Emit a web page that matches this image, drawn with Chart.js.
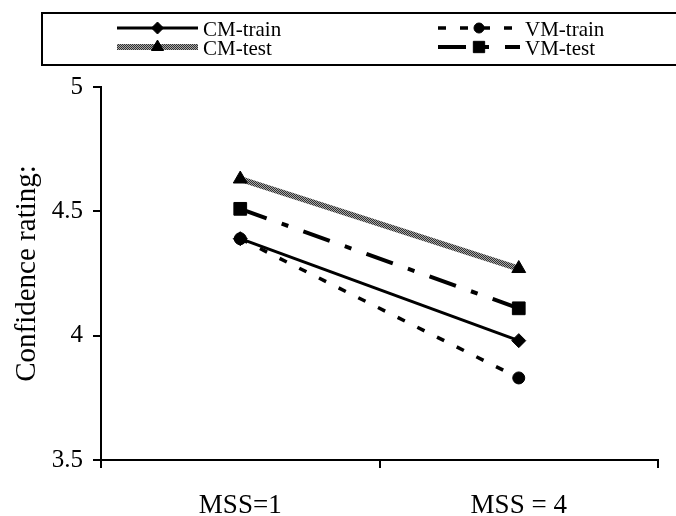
<!DOCTYPE html>
<html>
<head>
<meta charset="utf-8">
<script src="https://cdn.jsdelivr.net/npm/chart.js@4/dist/chart.umd.min.js"></script>
<style>
  html, body { margin: 0; padding: 0; background: #fff; }
  #wrap { width: 676px; height: 516px; }
</style>
</head>
<body>
<div id="wrap"><canvas id="chart"></canvas></div>
<script>
const categories = ["MSS=1", "MSS = 4"];
const yTicks     = [3.5, 4, 4.5, 5];

const cmTrain = [4.39, 3.98];
const vmTrain = [4.39, 3.83];
const cmTest  = [4.63, 4.27];
const vmTest  = [4.51, 4.11];

const SERIF = "'Liberation Serif', 'Times New Roman', serif";
Chart.defaults.font.family = SERIF;
Chart.defaults.color = "#000";

/* gray dotted texture used by CM-test */
function hatchPattern() {
  const c = document.createElement("canvas");
  c.width = 2; c.height = 2;
  const g = c.getContext("2d");
  g.fillStyle = "#a8a8a8"; g.fillRect(0, 0, 2, 2);
  g.fillStyle = "#303030"; g.fillRect(0, 0, 1, 1); g.fillRect(1, 1, 1, 1);
  return document.getElementById("chart").getContext("2d").createPattern(c, "repeat");
}

/* ── Legend box (Excel style, two columns) ─────────── */
const legendSlots = [
  { x0: 117, x1: 198, y: 28 },
  { x0: 438, x1: 520, y: 28 },
  { x0: 117, x1: 198, y: 47 },
  { x0: 438, x1: 520, y: 47 },
];

const legendBox = {
  id: "legendBox",
  afterDraw(chart) {
    const ctx = chart.ctx;
    ctx.save();
    ctx.lineWidth = 2;
    ctx.strokeStyle = "#000";
    ctx.strokeRect(42, 13, 640, 52);

    chart.data.datasets.forEach((ds, i) => {
      const s = legendSlots[i];
      ctx.beginPath();
      ctx.setLineDash(ds.borderDash || []);
      ctx.lineWidth = ds.borderWidth;
      ctx.strokeStyle = ds.borderColor;
      ctx.moveTo(s.x0, s.y);
      ctx.lineTo(s.x1, s.y);
      ctx.stroke();
      ctx.setLineDash([]);

      ctx.fillStyle = "#000";
      ctx.strokeStyle = "#000";
      ctx.lineWidth = 1;
      Chart.helpers.drawPoint(ctx, {
        pointStyle: ds.pointStyle, radius: ds.pointRadius - 1, borderWidth: 1, rotation: 0
      }, (s.x0 + s.x1) / 2, s.y);

      ctx.font = "21px " + SERIF;
      ctx.fillStyle = "#000";
      ctx.textBaseline = "middle";
      ctx.fillText(ds.label, s.x1 + 5, s.y + 2);
    });
    ctx.restore();
  }
};

const pattern = hatchPattern();

new Chart(document.getElementById("chart"), {
  type: "line",
  data: {
    labels: categories,
    datasets: [
      {
        label: "CM-train", data: cmTrain, order: 4,
        borderColor: "#000", borderWidth: 3,
        pointStyle: "rectRot", pointRadius: 7,
      },
      {
        label: "VM-train", data: vmTrain, order: 3,
        borderColor: "#000", borderWidth: 3.5, borderDash: [8, 14],
        pointStyle: "circle", pointRadius: 6,
      },
      {
        label: "CM-test", data: cmTest, order: 2,
        borderColor: pattern, borderWidth: 6,
        pointStyle: "triangle", pointRadius: 8,
      },
      {
        label: "VM-test", data: vmTest, order: 1,
        borderColor: "#000", borderWidth: 4, borderDash: [28, 16, 7, 16],
        pointStyle: "rect", pointRadius: 9,
      },
    ].map(d => Object.assign({
      pointBackgroundColor: "#000", pointBorderColor: "#000", pointBorderWidth: 1,
      tension: 0, fill: false,
    }, d))
  },
  options: {
    responsive: true,
    maintainAspectRatio: false,
    animation: false,
    layout: { padding: { top: 87, right: 18, left: 0, bottom: 0 } },
    plugins: {
      legend: { display: false },
      tooltip: { enabled: false },
    },
    scales: {
      x: {
        offset: true,
        grid: { offset: true, drawOnChartArea: false, drawTicks: true, tickLength: 8, color: "#000", lineWidth: 2 },
        border: { color: "#000", width: 2 },
        ticks: { font: { size: 27 }, padding: 22, maxRotation: 0 },
        afterFit: s => { s.height = 56; },
      },
      y: {
        min: 3.5, max: 5,
        afterBuildTicks: s => { s.ticks = yTicks.map(v => ({ value: v })); },
        grid: { drawOnChartArea: false, drawTicks: true, tickLength: 8, color: "#000", lineWidth: 2 },
        border: { color: "#000", width: 2 },
        ticks: { font: { size: 25 }, padding: 10, callback: v => String(v) },
        title: { display: true, text: "Confidence rating:", font: { size: 29 }, padding: { top: 10 } },
        afterFit: s => { s.width = 101; },
      }
    }
  },
  plugins: [legendBox]
});
</script>
</body>
</html>
